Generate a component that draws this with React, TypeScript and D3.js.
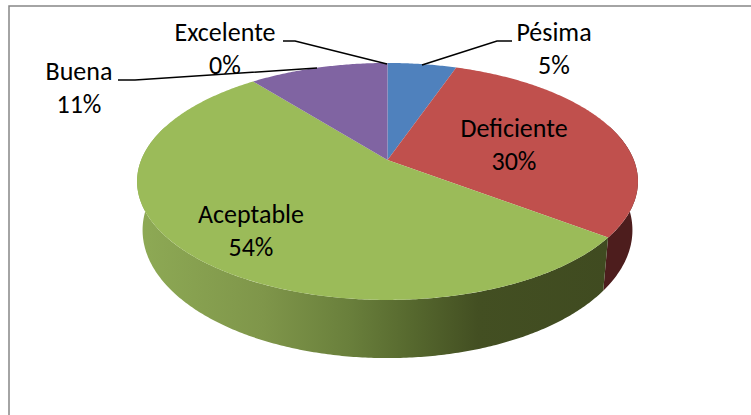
import React from 'react';
import * as d3 from 'd3';

const categories = ['Pésima', 'Deficiente', 'Aceptable', 'Buena', 'Excelente'];
const values = [5.3, 30, 54, 10.7, 0];
const percentLabels = ['5%', '30%', '54%', '11%', '0%'];
const topColors = ['#4f81bd', '#c0504d', '#9bbb59', '#8064a2', '#4bacc6'];
const labelX = [554, 514, 251, 79, 225];
const labelY = [41, 137, 223, 80, 41];
const leaders: ([number, number][] | null)[] = [
  [[512, 41], [497, 41], [422, 65]],
  null,
  null,
  [[118, 80], [135, 80], [317, 68]],
  [[283, 41], [295, 41], [387, 64]],
];
const greenStops: [number, string][] = [
  [0, '#8eaa55'], [0.25, '#7f964a'], [0.42, '#6a803c'], [0.55, '#56682e'], [0.68, '#434f22'], [1, '#3f4a20'],
];

const apexX = 387.5, apexY = 160;
const k = 0.181, Rx = 246.3, Ry = 114.6;
const baseApexY = 207, baseSx = 0.978, baseSy = 1.08;

const pie = d3.pie<number>().sort(null).startAngle(0).endAngle(2 * Math.PI);
const arcs = pie(values);

function project(a: number, base: boolean): [number, number] {
  const u = Math.sin(a), v = -Math.cos(a), w = 1 - k * v;
  return base
    ? [apexX + (baseSx * Rx * u) / w, baseApexY + (baseSy * Ry * v) / w]
    : [apexX + (Rx * u) / w, apexY + (Ry * v) / w];
}
const line = d3.line();
function angles(a0: number, a1: number) {
  const n = Math.max(2, Math.ceil((a1 - a0) / 0.01));
  return d3.range(n + 1).map((i) => a0 + ((a1 - a0) * i) / n);
}
const visibleStart = Math.PI * 0.4;
const visibleEnd = Math.PI * 1.6;

export default function App() {
  return (
    <svg width={751} height={415} style={{ position: 'absolute', left: 0, top: 0, background: '#fff' }} fontFamily="Carlito, Lato, sans-serif">
      <defs>
        <linearGradient id="greenSide" gradientUnits="userSpaceOnUse" x1={137} x2={638} y1={0} y2={0}>
          {greenStops.map(([o, c]) => <stop key={o} offset={o} stopColor={c} />)}
        </linearGradient>
      </defs>
      <path d="M9,415V6H751" fill="none" stroke="#868686" strokeWidth={1.5} />
      {arcs.map((d, i) => {
        const a0 = Math.max(d.startAngle, visibleStart), a1 = Math.min(d.endAngle, visibleEnd);
        if (a1 <= a0) return null;
        const as = angles(a0, a1);
        const pts = [...as.map((a) => project(a, false)), ...as.slice().reverse().map((a) => project(a, true))];
        return <path key={i} d={line(pts) + 'Z'} fill={i === 1 ? '#4d1d1d' : 'url(#greenSide)'} />;
      })}
      {arcs.map((d, i) => {
        if (d.endAngle <= d.startAngle) return null;
        const pts: [number, number][] = [[apexX, apexY], ...angles(d.startAngle, d.endAngle).map((a) => project(a, false))];
        return <path key={i} d={line(pts) + 'Z'} fill={topColors[i]} />;
      })}
      {leaders.map((pts, i) => pts && <path key={i} d={line(pts) ?? ''} fill="none" stroke="#000" strokeWidth={1.5} />)}
      {categories.map((c, i) => (
        <text key={c} textAnchor="middle" fontSize={26} fill="#000">
          <tspan x={labelX[i]} y={labelY[i]}>{c}</tspan>
          <tspan x={labelX[i]} y={labelY[i] + 33}>{percentLabels[i]}</tspan>
        </text>
      ))}
    </svg>
  );
}
